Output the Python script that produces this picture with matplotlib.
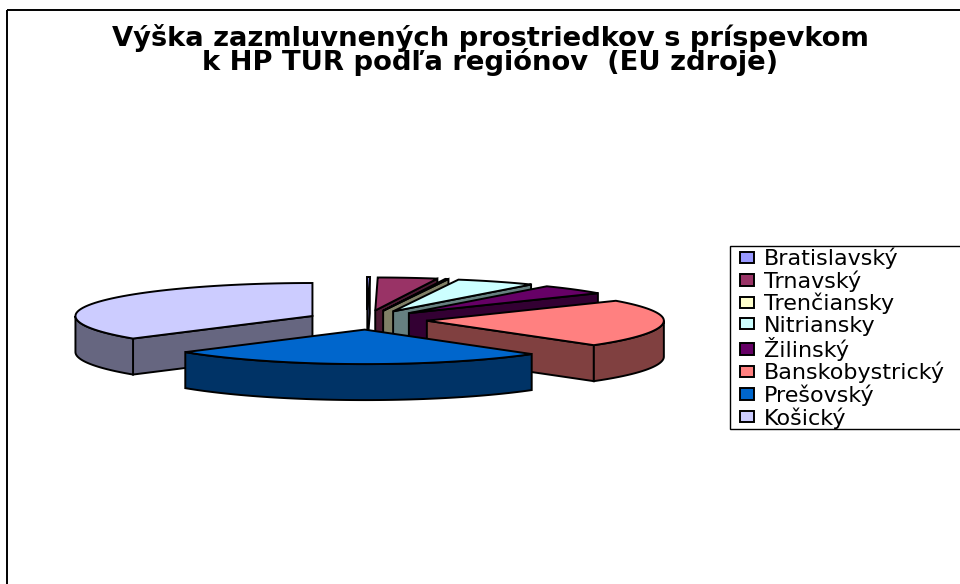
import numpy as np
import matplotlib
matplotlib.use("Agg")
import matplotlib.pyplot as plt
from matplotlib.patches import Polygon, Rectangle
from matplotlib.colors import to_rgb

# degrees of each slice
regions = ["Bratislavský", "Trnavský", "Trenčiansky", "Nitriansky", "Žilinský",
           "Banskobystrický", "Prešovský", "Košický"]
values = [0.6, 14.6, 0.8, 19.6, 17.3, 82.3, 94.0, 130.8]
colors = ["#9999FF", "#993366", "#FFFFCC", "#CCFFFF", "#660066", "#FF8080", "#0066CC", "#CCCCFF"]
title = "Výška zazmluvnených prostriedkov s príspevkom\nk HP TUR podľa regiónov  (EU zdroje)"

# pie geometry in pixels
cx, cy = 367, 320
rx = 237
ry_back, ry_front = 33, 34.5
explode = 60
depth = 36
squash = 0.16

plt.rcParams["font.family"] = ["DejaVu Sans"]

fig = plt.figure(figsize=(9.6, 5.84), dpi=100)
ax = fig.add_axes([0, 0, 1, 1])
ax.set_xlim(0, 960)
ax.set_ylim(584, 0)
ax.axis("off")

# chart frame, runs off the right and bottom of the image
ax.add_patch(Rectangle((7, 10), 1000, 600, fill=False, ec="black", lw=1.4))


def rim(a, ox, oy):
    a = np.radians(a)
    c = np.cos(a)
    return np.column_stack([ox + rx * np.sin(a), oy - np.where(c > 0, ry_back, ry_front) * c])


def wall(pts):
    # extrude a run of top face points downwards
    return np.vstack([pts, pts[::-1] + [0, depth]])


angles = np.cumsum([0] + values)
tops = []
# back slices first, Košický before Prešovský so the front one covers it
order = [0, 1, 2, 3, 4, 5, 7, 6]
for i in order:
    a0, a1 = angles[i], angles[i + 1]
    mid = np.radians((a0 + a1) / 2)
    ox = cx + explode * np.sin(mid)
    oy = cy - explode * squash * np.cos(mid)
    apex = np.array([[ox, oy]])
    base = np.array(to_rgb(colors[i]))
    dark = base * 0.5

    # radial wall facing the viewer
    if a1 <= 180:
        edge = np.vstack([apex, rim(np.array([a1]), ox, oy)])
        ax.add_patch(Polygon(wall(edge), fc=dark, ec="black", lw=1.4))
    elif a0 >= 180:
        edge = np.vstack([apex, rim(np.array([a0]), ox, oy)])
        ax.add_patch(Polygon(wall(edge), fc=dark, ec="black", lw=1.4))

    # outer wall, only the part below the middle of the ellipse
    f0, f1 = max(a0, 90), min(a1, 270)
    if f1 > f0:
        arc = rim(np.linspace(f0, f1, 60), ox, oy)
        ax.add_patch(Polygon(wall(arc), fc=dark, ec="black", lw=1.4))

    # top face
    arc = rim(np.linspace(a0, a1, 60), ox, oy)
    top = Polygon(np.vstack([apex, arc]), fc=base, ec="black", lw=1.4, label=regions[i])
    ax.add_patch(top)
    tops.append(top)

ax.text(490, 50, title, ha="center", va="center", fontsize=19.7, fontweight="bold",
        linespacing=0.84)

# legend box is cut off by the right edge of the image
ax.add_patch(Rectangle((730, 246), 300, 183, fc="white", ec="black", lw=1.0, zorder=5))
handles = sorted(tops, key=lambda p: regions.index(p.get_label()))
leg = ax.legend(handles=handles, loc="upper left", bbox_to_anchor=(738 / 960, 1 - 246 / 584),
                bbox_transform=ax.transAxes, borderaxespad=0, frameon=False,
                fontsize=16, handlelength=0.62, handleheight=0.42,
                handletextpad=0.45, labelspacing=0.05, borderpad=0.08)
leg.set_zorder(6)

fig.savefig("out.png", dpi=100)
